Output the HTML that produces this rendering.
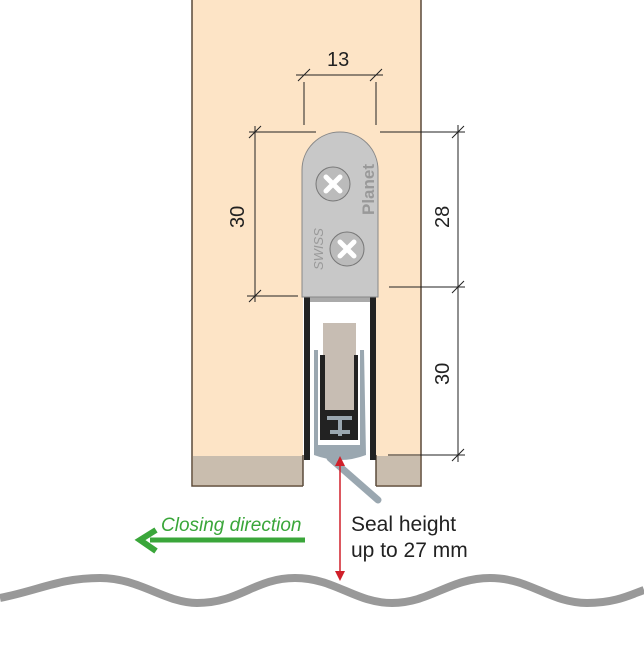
<!DOCTYPE html>
<html><head><meta charset="utf-8"><style>html,body{margin:0;padding:0;background:#fff}svg{display:block}</style></head><body>
<svg width="644" height="649" viewBox="0 0 644 649" xmlns="http://www.w3.org/2000/svg" font-family="Liberation Sans, sans-serif">
<rect x="192" y="-2" width="229" height="488" fill="#fde4c6" stroke="#5a4a3a" stroke-width="1.5"/>
<rect x="193" y="456" width="227" height="29" fill="#c9bdae"/>
<rect x="303" y="292" width="73" height="196" fill="#fff"/>
<line x1="303" y1="455" x2="303" y2="486" stroke="#5a4a3a" stroke-width="1.5"/>
<line x1="376" y1="455" x2="376" y2="486" stroke="#5a4a3a" stroke-width="1.5"/>
<path d="M304 296 V460 H310 V300 H370 V460 H376 V296 Z" fill="#222"/>
<rect x="310" y="296" width="60" height="6" fill="#aaa"/>
<rect x="323" y="323" width="33" height="90" fill="#c7bdb3"/>
<path d="M314 350 L318 350 L318 445 L360 445 L360 350 L364 350 L366 455 Q340 465 314 455 Z" fill="#9aa7b0"/>
<path d="M320 355 V440 H358 V355 H354 V410 H325 V355 Z" fill="#222"/>
<path d="M322 412 H356 V440 H322 Z" fill="#222"/>
<path d="M327 418 H352 M340 418 V436 M330 432 H350" stroke="#9aa7b0" stroke-width="4"/>
<line x1="330" y1="458" x2="378" y2="500" stroke="#9aa7b0" stroke-width="7" stroke-linecap="round"/>
<path d="M302 297 V170 A38 38 0 0 1 378 170 V297 Z" fill="#c8c8c8" stroke="#888" stroke-width="1"/>
<g stroke="#777" fill="#bbb"><circle cx="333" cy="184" r="17"/><circle cx="347" cy="249" r="17"/></g>
<g stroke="#fff" stroke-width="5" stroke-linecap="round"><path d="M326 177 L340 191 M340 177 L326 191"/><path d="M340 242 L354 256 M354 242 L340 256"/></g>
<text transform="translate(374 215) rotate(-90)" font-size="17" fill="#999" font-weight="bold">Planet</text>
<text transform="translate(323 270) rotate(-90)" font-size="13" fill="#999" font-style="italic">SWISS</text>
<g stroke="#222" stroke-width="1" fill="none">
<line x1="296" y1="75" x2="383" y2="75"/>
<line x1="304" y1="82" x2="304" y2="125"/><line x1="376" y1="82" x2="376" y2="125"/>
<path d="M298 81 L310 69 M370 81 L382 69"/>
<line x1="249" y1="132" x2="316" y2="132"/><line x1="247" y1="296" x2="298" y2="296"/>
<line x1="255" y1="126" x2="255" y2="302"/>
<path d="M249 138 L261 126 M249 302 L261 290"/>
<line x1="380" y1="132" x2="465" y2="132"/><line x1="389" y1="287" x2="465" y2="287"/><line x1="388" y1="455" x2="465" y2="455"/>
<line x1="458" y1="125" x2="458" y2="462"/>
<path d="M452 138 L464 126 M452 293 L464 281 M452 461 L464 449"/>
</g>
<g font-size="20" fill="#222">
<text x="327" y="66">13</text>
<text transform="translate(244 228) rotate(-90)">30</text>
<text transform="translate(449 228) rotate(-90)">28</text>
<text transform="translate(449 385) rotate(-90)">30</text>
</g>
<line x1="340" y1="465" x2="340" y2="572" stroke="#d0202a" stroke-width="1.5"/>
<path d="M335 466 L340 456 L345 466 Z M335 571 L340 581 L345 571 Z" fill="#d0202a"/>
<text x="161" y="531" font-size="19" font-style="italic" fill="#3aa63a">Closing direction</text>
<line x1="150" y1="540" x2="305" y2="540" stroke="#3aa63a" stroke-width="5"/>
<path d="M156 530 L140 540 L156 551" stroke="#3aa63a" stroke-width="6" fill="none"/>
<text x="351" y="531" font-size="21" fill="#222">Seal height</text>
<text x="351" y="557" font-size="21" fill="#222">up to 27 mm</text>
<path d="M0 598 C40 590 60 578 100 578 C140 578 165 603 197 603 C240 603 255 578 295 578 C335 578 355 603 392 603 C430 603 450 578 490 578 C530 578 550 603 587 603 C615 603 630 595 644 590" stroke="#999" stroke-width="8" fill="none"/>
</svg>
</body></html>
